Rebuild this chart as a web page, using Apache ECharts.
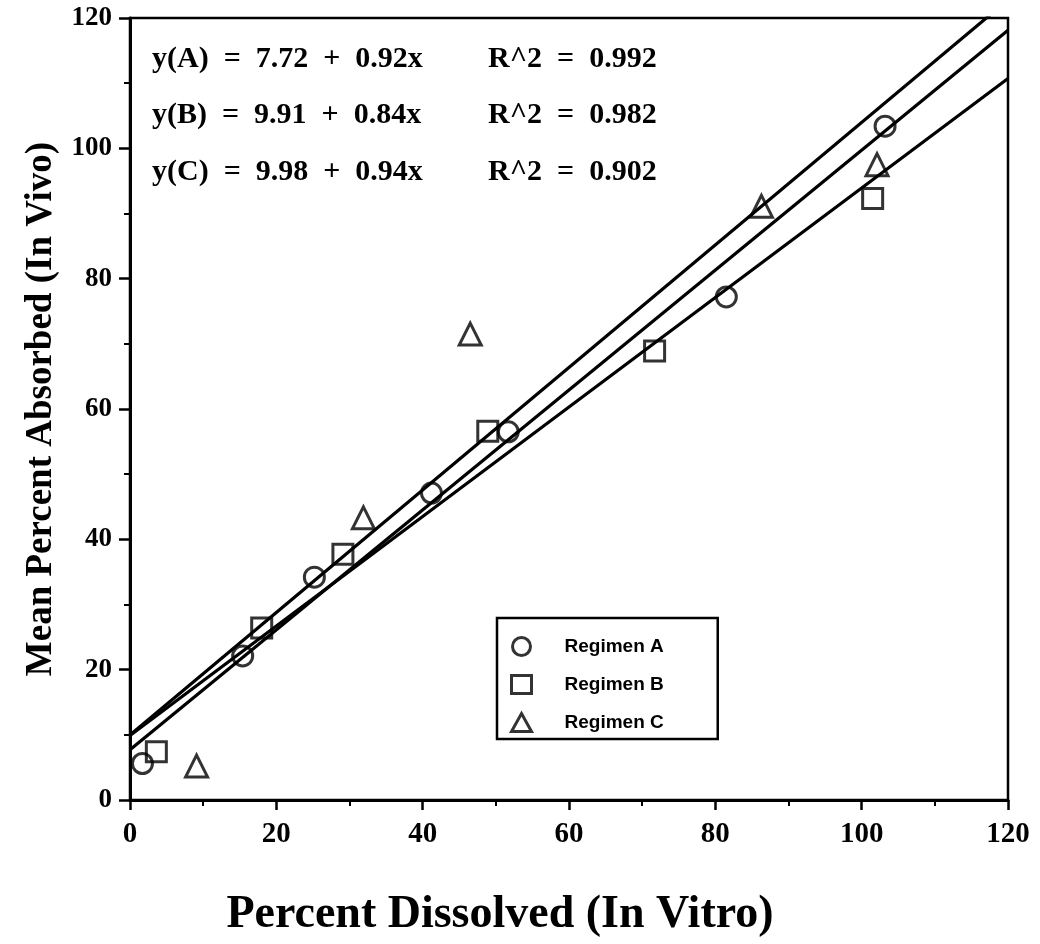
<!DOCTYPE html>
<html>
<head>
<meta charset="utf-8">
<title>Percent Absorbed vs Percent Dissolved</title>
<script src="https://cdn.jsdelivr.net/npm/echarts@6/dist/echarts.min.js"></script>
<style>
  html, body { margin: 0; padding: 0; background: #fff; }
  #chart { width: 1040px; height: 944px; }
</style>
</head>
<body>
<div id="chart"></div>
<script>
// Observations: percent dissolved in vitro (x) vs mean percent absorbed in vivo (y)
const regimenNames = ['Regimen A', 'Regimen B', 'Regimen C'];
const regimenKeys = ['A', 'B', 'C'];

const regimenA_x = [1.7, 15.4, 25.2, 41.2, 51.7, 81.5, 103.2];
const regimenA_y = [5.6, 22.1, 34.2, 47.1, 56.5, 77.2, 103.4];

const regimenB_x = [3.6, 18.0, 29.1, 48.9, 71.7, 101.5];
const regimenB_y = [7.4, 26.4, 37.7, 56.6, 68.9, 92.3];

const regimenC_x = [9.1, 31.9, 46.5, 86.3, 102.1];
const regimenC_y = [5.2, 43.3, 71.5, 91.1, 97.5];

// Fitted regressions y = intercept + slope * x
const fitIntercepts = [7.72, 9.91, 9.98];
const fitSlopes = [0.92, 0.84, 0.94];
const fitR2 = [0.992, 0.982, 0.902];

const xAxisRange = [0, 120];
const yAxisRange = [0, 120];
const tickStep = 20;

const markerShapes = ['circle', 'rect', 'triangle'];
const markerSizes = [20, 20, 22];

const pointsX = [regimenA_x, regimenB_x, regimenC_x];
const pointsY = [regimenA_y, regimenB_y, regimenC_y];

const serif = '"Liberation Serif", "DejaVu Serif", serif';
const sans = '"Liberation Sans", Arial, sans-serif';

const hollow = {
  color: 'rgba(255,255,255,0)',
  borderColor: '#000',
  borderWidth: 3
};

const series = [];

// Regression lines, clipped to the plot frame
fitIntercepts.forEach((a, i) => {
  const b = fitSlopes[i];
  series.push({
    name: 'fit ' + regimenKeys[i],
    type: 'line',
    data: [[xAxisRange[0], a + b * xAxisRange[0]], [xAxisRange[1], a + b * xAxisRange[1]]],
    showSymbol: false,
    symbol: 'none',
    clip: true,
    silent: true,
    z: 1,
    lineStyle: { color: '#000', width: 3.2 }
  });
});

// Observed points
regimenNames.forEach((name, i) => {
  series.push({
    name: name,
    type: 'scatter',
    symbol: markerShapes[i],
    symbolSize: markerSizes[i],
    z: 3,
    itemStyle: hollow,
    data: pointsX[i].map((x, k) => [x, pointsY[i][k]])
  });
});

// Equation captions in the upper-left corner of the plot
const graphic = [];
regimenKeys.forEach((k, i) => {
  const yMid = 59 + i * 56.5;
  graphic.push({
    type: 'text', x: 152, y: yMid, z: 10,
    style: {
      text: 'y(' + k + ')  =  ' + fitIntercepts[i].toFixed(2) + '  +  ' + fitSlopes[i].toFixed(2) + 'x',
      font: 'bold 30px ' + serif, fill: '#000', verticalAlign: 'middle'
    }
  });
  graphic.push({
    type: 'text', x: 488, y: yMid, z: 10,
    style: {
      text: 'R^2  =  ' + fitR2[i].toFixed(3),
      font: 'bold 30px ' + serif, fill: '#000', verticalAlign: 'middle'
    }
  });
});

const chart = echarts.init(document.getElementById('chart'), null, { renderer: 'canvas' });

chart.setOption({
  backgroundColor: '#fff',
  animation: false,
  grid: {
    left: 130, right: 32, top: 18, bottom: 144,
    show: true, borderColor: '#000', borderWidth: 2.5, backgroundColor: 'transparent'
  },
  xAxis: {
    type: 'value',
    min: xAxisRange[0], max: xAxisRange[1], interval: tickStep,
    name: 'Percent Dissolved (In Vitro)',
    nameLocation: 'middle',
    nameGap: 92,
    nameTextStyle: { fontFamily: serif, fontWeight: 'bold', fontSize: 46, color: '#000', padding: [0, 138, 0, 0] },
    axisLine: { show: true, lineStyle: { color: '#000', width: 3 } },
    axisTick: { show: true, inside: false, length: 10, lineStyle: { color: '#000', width: 2.5 } },
    minorTick: { show: true, splitNumber: 2, length: 6, lineStyle: { color: '#000', width: 2 } },
    splitLine: { show: false },
    axisLabel: { margin: 20, fontFamily: serif, fontWeight: 'bold', fontSize: 29, color: '#000' }
  },
  yAxis: {
    type: 'value',
    min: yAxisRange[0], max: yAxisRange[1], interval: tickStep,
    name: 'Mean Percent Absorbed (In Vivo)',
    nameLocation: 'middle',
    nameGap: 70,
    nameTextStyle: { fontFamily: serif, fontWeight: 'bold', fontSize: 37, color: '#000' },
    axisLine: { show: true, lineStyle: { color: '#000', width: 3 } },
    axisTick: { show: true, inside: false, length: 11, lineStyle: { color: '#000', width: 2.5 } },
    minorTick: { show: true, splitNumber: 2, length: 6, lineStyle: { color: '#000', width: 2 } },
    splitLine: { show: false },
    axisLabel: { margin: 18, fontFamily: serif, fontWeight: 'bold', fontSize: 27, color: '#000' }
  },
  legend: {
    show: true,
    orient: 'vertical',
    left: 497, top: 618,
    padding: [18, 54, 6, 13],
    itemGap: 17,
    itemWidth: 20,
    itemHeight: 18,
    borderColor: '#000',
    borderWidth: 2.5,
    backgroundColor: '#fff',
    data: regimenNames.map((n, i) => ({ name: n, icon: markerShapes[i], itemStyle: hollow })),
    textStyle: { fontFamily: sans, fontWeight: 'bold', fontSize: 19, color: '#000', padding: [0, 0, 0, 28] }
  },
  graphic: graphic,
  series: series
});
</script>
</body>
</html>
